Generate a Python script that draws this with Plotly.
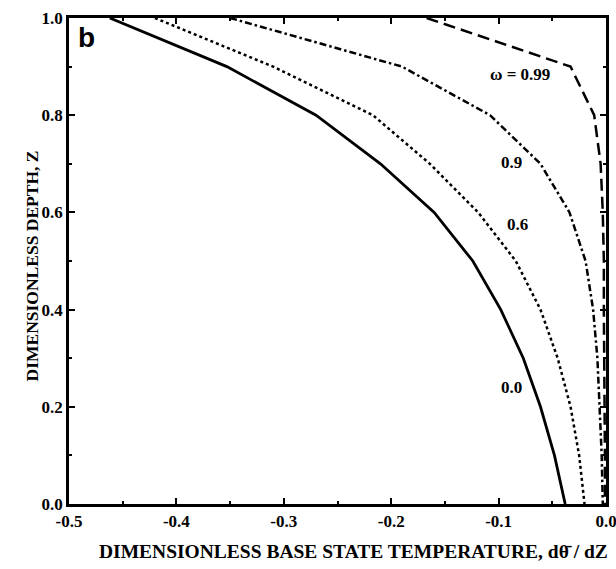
import plotly.graph_objects as go

depth = [1.0, 0.9, 0.8, 0.7, 0.6, 0.5, 0.4, 0.3, 0.2, 0.1, 0.0]
grad_w000 = [-0.462, -0.353, -0.270, -0.210, -0.160, -0.124, -0.098, -0.077, -0.061, -0.048, -0.038]
grad_w060 = [-0.420, -0.310, -0.217, -0.164, -0.119, -0.084, -0.061, -0.045, -0.033, -0.025, -0.020]
grad_w090 = [-0.350, -0.190, -0.108, -0.061, -0.034, -0.019, -0.012, -0.008, -0.006, -0.004, -0.003]
grad_w099 = [-0.167, -0.033, -0.011, -0.005, -0.003, -0.002, -0.002, -0.0015, -0.0015, -0.001, -0.001]

x_ticks = [-0.5, -0.4, -0.3, -0.2, -0.1, 0.0]
x_tick_text = ["-0.5", "-0.4", "-0.3", "-0.2", "-0.1", "0.0"]
y_ticks = [0.0, 0.2, 0.4, 0.6, 0.8, 1.0]
y_tick_text = ["0.0", "0.2", "0.4", "0.6", "0.8", "1.0"]

curve_labels = ["0.0", "0.6", "0.9", "\u03c9 = 0.99"]
label_x = [-0.088, -0.082, -0.088, -0.080]
label_y = [0.239, 0.576, 0.702, 0.883]

serif = "Liberation Serif"
fig = go.Figure()
series = [
    (grad_w000, "solid", 2.8),
    (grad_w060, "dot", 2.5),
    (grad_w090, "7px,3px,2.5px,3px", 2.5),
    (grad_w099, "12px,6px", 2.5),
]
for xs, dash, w in series:
    fig.add_trace(go.Scatter(x=xs, y=depth, mode="lines",
                             line=dict(color="black", width=w, dash=dash),
                             showlegend=False, hoverinfo="skip"))

for t, lx, ly in zip(curve_labels, label_x, label_y):
    fig.add_annotation(x=lx, y=ly, text="<b>%s</b>" % t, showarrow=False,
                       font=dict(family=serif, size=17, color="black"))

fig.add_annotation(x=-0.484, y=0.959, text="<b>b</b>", showarrow=False,
                   font=dict(family="Liberation Sans", size=28, color="black"))

fig.add_annotation(xref="paper", yref="paper", x=1.008, xanchor="right", y=-0.072, yanchor="top",
                   text="<b>DIMENSIONLESS BASE STATE TEMPERATURE, d\u03b8\u0304 / dZ</b>",
                   showarrow=False, font=dict(family=serif, size=19.5, color="black"))

axis_common = dict(showgrid=False, zeroline=False, showline=True, linecolor="black",
                   linewidth=2.5, mirror="ticks", ticks="inside", ticklen=6,
                   tickwidth=2, tickcolor="black", automargin=False,
                   ticklabeloverflow="allow",
                   tickfont=dict(family=serif, size=17, color="black"))

fig.update_xaxes(range=[-0.5, 0.0], tickvals=x_ticks, ticktext=["<b>%s</b>" % s for s in x_tick_text],
                 minor=dict(dtick=0.05, ticks="inside", ticklen=3, tickwidth=1.5, tickcolor="black"),
                 **axis_common)
fig.update_yaxes(range=[0.0, 1.0], tickvals=y_ticks, ticktext=["<b>%s</b>" % s for s in y_tick_text],
                 minor=dict(dtick=0.1, ticks="inside", ticklen=3, tickwidth=1.5, tickcolor="black"),
                 **axis_common)

fig.add_annotation(xref="paper", yref="paper", x=-0.092, y=0.49, textangle=-90,
                   text="<b>DIMENSIONLESS DEPTH, Z</b>", showarrow=False,
                   font=dict(family=serif, size=17.5, color="black"))

fig.update_layout(width=616, height=569, margin=dict(l=69, r=10, t=18, b=65),
                  plot_bgcolor="white", paper_bgcolor="white")
fig.write_html("out.html")
